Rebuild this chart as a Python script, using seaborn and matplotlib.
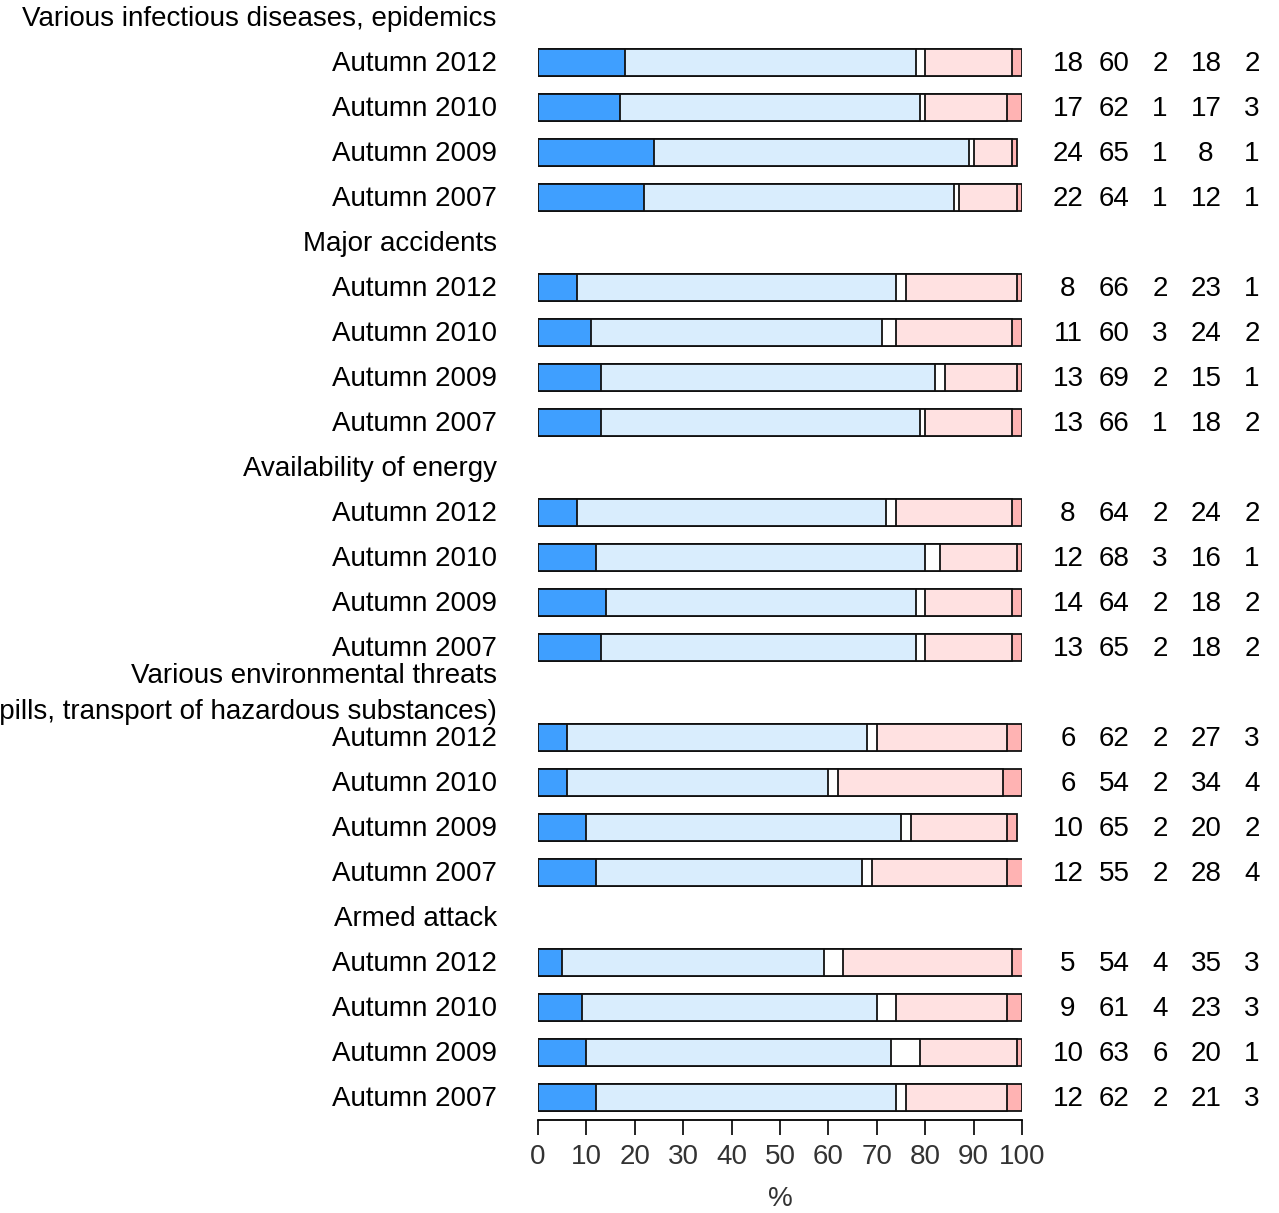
import numpy as np
import pandas as pd
import matplotlib
matplotlib.use("Agg")
import matplotlib.pyplot as plt
import seaborn as sns

# Survey groups and survey rounds (each group lists its rounds newest first)
groups = [
    "Various infectious diseases, epidemics",
    "Major accidents",
    "Availability of energy",
    "Various environmental threats\n(spills, transport of hazardous substances)",
    "Armed attack",
]
rounds = ["Autumn 2012", "Autumn 2010", "Autumn 2009", "Autumn 2007"]

# Answer shares (%) per group and round, in the order of `rounds`
very_well = [18, 17, 24, 22, 8, 11, 13, 13, 8, 12, 14, 13, 6, 6, 10, 12, 5, 9, 10, 12]
fairly_well = [60, 62, 65, 64, 66, 60, 69, 66, 64, 68, 64, 65, 62, 54, 65, 55, 54, 61, 63, 62]
cant_say = [2, 1, 1, 1, 2, 3, 2, 1, 2, 3, 2, 2, 2, 2, 2, 2, 4, 4, 6, 2]
fairly_poorly = [18, 17, 8, 12, 23, 24, 15, 18, 24, 16, 18, 18, 27, 34, 20, 28, 35, 23, 20, 21]
very_poorly = [2, 3, 1, 1, 1, 2, 1, 2, 2, 1, 2, 2, 3, 4, 2, 4, 3, 3, 1, 3]

segment_colors = ["#3F9FFF", "#D9EDFD", "#FFFFFF", "#FFE1E1", "#FFB3B3"]
tick_values = list(range(0, 101, 10))

sns.set_theme(style="white")
plt.rcParams["font.family"] = ["Liberation Sans", "DejaVu Sans"]

# Row layout: one header row followed by one row per survey round
rows = []
header_pos = []
pos = 0
for g_i, g in enumerate(groups):
    header_pos.append(pos)
    pos += 1
    for r_i, r in enumerate(rounds):
        k = g_i * len(rounds) + r_i
        rows.append(dict(pos=pos, label=r,
                         v1=very_well[k], v2=fairly_well[k], v3=cant_say[k],
                         v4=fairly_poorly[k], v5=very_poorly[k]))
        pos += 1
df = pd.DataFrame(rows)
n_rows = pos

vals = ["v1", "v2", "v3", "v4", "v5"]
cum = df[vals].cumsum(axis=1)
for i, c in enumerate(vals):
    df["cum" + str(i + 1)] = cum[c]

W, H = 1279, 1213
fig = plt.figure(figsize=(W / 100, H / 100), dpi=100)
left_px, right_px = 538, 1022
bottom_px = 1120
row_px = 45.0
top_px = 17 - row_px / 2
ax = fig.add_axes([left_px / W, 1 - bottom_px / H,
                   (right_px - left_px) / W, (bottom_px - top_px) / H])

# Stacked bars: draw cumulative totals from the widest down so each
# segment shows its own edge
for i in range(len(vals), 0, -1):
    sns.barplot(data=df, x="cum%d" % i, y="pos", orient="h", native_scale=True,
                color=segment_colors[i - 1], saturation=1, width=0.6,
                errorbar=None, edgecolor="#111111", linewidth=1.3, ax=ax)

ax.set_xlim(0, 100)
ax.set_ylim(n_rows - 0.5, -0.5)

fs = 20
dy = 0.04  # small downward nudge so text sits level with the bars
# Round labels and group headers
for _, r in df.iterrows():
    ax.text(-8.5, r["pos"] + dy, r["label"], ha="right", va="center",
            fontsize=fs, color="black", clip_on=False)
for g, p in zip(groups, header_pos):
    ax.text(-8.5, p + dy, g, ha="right", va="center", multialignment="right",
            fontsize=fs, color="black", clip_on=False, linespacing=1.5)

# Values printed to the right of each bar
col_x = [109.5, 119.0, 128.5, 138.0, 147.5]
for _, r in df.iterrows():
    for cx, c in zip(col_x, vals):
        ax.text(cx, r["pos"] + dy, "%d" % r[c], ha="center", va="center",
                fontsize=fs, color="black", clip_on=False)

for s in ["top", "right", "left"]:
    ax.spines[s].set_visible(False)
ax.spines["bottom"].set_color("black")
ax.spines["bottom"].set_linewidth(1.3)
ax.spines["bottom"].set_bounds(0, 100)
ax.set_yticks([])
ax.set_ylabel("")
ax.set_xticks(tick_values)
ax.set_xticklabels([str(t) for t in tick_values])
ax.tick_params(axis="x", direction="out", length=11, width=1.2, color="black",
               bottom=True, labelsize=fs, labelcolor="#333333", pad=6)
ax.set_xlabel("%", fontsize=fs, color="#333333", labelpad=12)
ax.grid(False)

fig.savefig("out.png", dpi=100)
